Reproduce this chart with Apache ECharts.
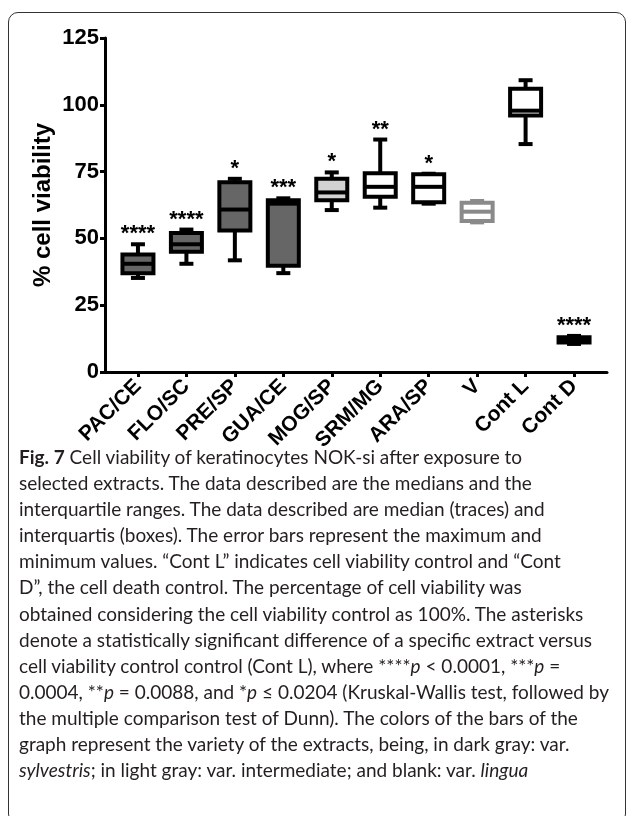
<!DOCTYPE html>
<html>
<head>
<meta charset="utf-8">
<script src="https://cdn.jsdelivr.net/npm/echarts@6/dist/echarts.min.js"></script>
<style>
  html, body { margin: 0; padding: 0; background: #fff; }
  #page { position: relative; width: 629px; height: 816px; overflow: hidden; background: #fff; }
  #frame {
    position: absolute; left: 8px; top: 12px; width: 618px; height: 812px;
    border: 1.5px solid #333; border-radius: 10px; box-sizing: border-box;
  }
  #chart { position: absolute; left: 0; top: 0; width: 629px; height: 816px; }
  #caption {
    position: absolute; left: 19px; top: 444px;
    font-family: "Lato", sans-serif;
    font-size: 19px; line-height: 26.1px; color: #231f20; white-space: nowrap;
  }
  #caption b { font-weight: bold; }
</style>
</head>
<body>
<div id="page">
  <div id="frame"></div>
  <div id="chart"></div>
  <div id="caption">
    <b>Fig. 7</b> Cell viability of keratinocytes NOK-si after exposure to<br>
    selected extracts. The data described are the medians and the<br>
    interquartile ranges. The data described are median (traces) and<br>
    interquartis (boxes). The error bars represent the maximum and<br>
    minimum values. “Cont L” indicates cell viability control and “Cont<br>
    D”, the cell death control. The percentage of cell viability was<br>
    obtained considering the cell viability control as 100%. The asterisks<br>
    denote a statistically significant difference of a specific extract versus<br>
    cell viability control control (Cont L), where ****<i>p</i> &lt; 0.0001, ***<i>p</i> =<br>
    0.0004, **<i>p</i> = 0.0088, and *<i>p</i> ≤ 0.0204 (Kruskal-Wallis test, followed by<br>
    the multiple comparison test of Dunn). The colors of the bars of the<br>
    graph represent the variety of the extracts, being, in dark gray: var.<br>
    <i>sylvestris</i>; in light gray: var. intermediate; and blank: var. <i>lingua</i>
  </div>
</div>
<script>
// extracts + controls
const categories = ['PAC/CE', 'FLO/SC', 'PRE/SP', 'GUA/CE', 'MOG/SP', 'SRM/MG', 'ARA/SP', 'V', 'Cont L', 'Cont D']

// min, q1, median, q3, max
const minValues = [35.2, 40.5, 41.8, 37.0, 60.6, 61.5, 63.0, 56.0, 85.3, 10.5]
const q1Values = [37.0, 45.0, 53.0, 39.8, 64.3, 65.6, 63.5, 56.5, 96.0, 11.0]
const medianValues = [40.5, 47.8, 60.8, 63.0, 67.2, 69.3, 69.3, 60.0, 97.8, 12.0]
const q3Values = [44.0, 52.0, 71.0, 64.3, 72.3, 74.4, 74.0, 63.3, 106.0, 13.0]
const maxValues = [47.8, 53.3, 72.3, 65.0, 74.7, 87.0, 74.2, 64.0, 109.2, 13.5]

const significance = ['****', '****', '*', '***', '*', '**', '*', '', '', '****']

const yTicks = [0, 25, 50, 75, 100, 125]

// dark gray = var. sylvestris, light gray = var. intermediate, blank = var. lingua
const fillColors = ['#666', '#666', '#666', '#666', '#d2d2d2', '#fff', '#fff', '#fff', '#fff', '#000']
const strokeColors = ['#000', '#000', '#000', '#000', '#000', '#000', '#000', '#8a8a8a', '#000', '#000']

const boxData = categories.map((c, i) => [i, minValues[i], q1Values[i], medianValues[i], q3Values[i], maxValues[i]])

const renderBox = (params, api) => {
  const i = params.dataIndex
  const x = api.value(0)
  const cx = api.coord([x, 0])[0]
  const yMin = api.coord([x, api.value(1)])[1]
  const yQ1 = api.coord([x, api.value(2)])[1]
  const yMed = api.coord([x, api.value(3)])[1]
  const yQ3 = api.coord([x, api.value(4)])[1]
  const yMax = api.coord([x, api.value(5)])[1]
  const hw = 15.5
  const cap = 7
  const stroke = strokeColors[i]
  const lw = 4
  const line = (x1, y1, x2, y2) => ({
    type: 'line',
    shape: { x1, y1, x2, y2 },
    style: { stroke, lineWidth: lw }
  })
  return {
    type: 'group',
    children: [
      line(cx, yMax, cx, yQ3),
      line(cx, yQ1, cx, yMin),
      line(cx - cap, yMax, cx + cap, yMax),
      line(cx - cap, yMin, cx + cap, yMin),
      {
        type: 'rect',
        shape: { x: cx - hw, y: yQ3, width: hw * 2, height: yQ1 - yQ3 },
        style: { fill: fillColors[i], stroke, lineWidth: lw }
      },
      line(cx - hw, yMed, cx + hw, yMed),
      {
        type: 'text',
        style: {
          text: significance[i],
          x: cx,
          y: yMax - 10,
          align: 'center',
          verticalAlign: 'middle',
          font: 'bold 22px "Liberation Sans", Arial, sans-serif',
          fill: '#000'
        }
      }
    ]
  }
}

const chart = echarts.init(document.getElementById('chart'))

const option = {
  animation: false,
  grid: { left: 105, right: 22, top: 38, bottom: 444, outerBoundsMode: 'none', containLabel: false },
  xAxis: {
    type: 'value',
    min: -0.68,
    max: 9.68,
    splitLine: { show: false },
    axisLine: { show: true, onZero: false, lineStyle: { color: '#000', width: 3 } },
    axisTick: {
      show: true,
      customValues: categories.map((c, i) => i),
      length: 5,
      lineStyle: { color: '#000', width: 3 }
    },
    axisLabel: {
      customValues: categories.map((c, i) => i),
      formatter: v => categories[Math.round(v)],
      rotate: 45,
      margin: 11,
      color: '#000',
      fontFamily: '"Liberation Sans", Arial, sans-serif',
      fontWeight: 'bold',
      fontSize: 21
    }
  },
  yAxis: {
    type: 'value',
    min: 0,
    max: 125,
    interval: 25,
    name: '% cell viability',
    nameLocation: 'middle',
    nameGap: 50,
    nameMoveOverlap: false,
    nameTextStyle: {
      color: '#000',
      fontFamily: '"Liberation Sans", Arial, sans-serif',
      fontWeight: 'bold',
      fontSize: 24
    },
    splitLine: { show: false },
    axisLine: { show: true, onZero: false, lineStyle: { color: '#000', width: 3 } },
    axisTick: { show: true, length: 5, lineStyle: { color: '#000', width: 3 } },
    axisLabel: {
      margin: 6,
      color: '#000',
      fontFamily: '"Liberation Sans", Arial, sans-serif',
      fontWeight: 'bold',
      fontSize: 22,
      formatter: v => (yTicks.includes(v) ? String(v) : '')
    }
  },
  series: [
    {
      type: 'custom',
      renderItem: renderBox,
      data: boxData,
      encode: { x: 0, y: [1, 2, 3, 4, 5] },
      clip: false
    }
  ]
}

chart.setOption(option)
</script>
</body>
</html>
